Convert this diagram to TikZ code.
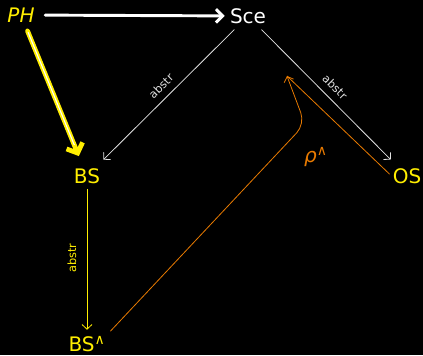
\documentclass[tikz,border=0pt]{standalone}
\usepackage{fontspec}
\setmainfont{DejaVu Sans}
\usetikzlibrary{arrows.meta}

\definecolor{ylw}{RGB}{255,238,0}
\definecolor{org}{RGB}{232,122,0}
\definecolor{lgray}{RGB}{225,225,225}

\begin{document}
\begin{tikzpicture}[x=0.75pt,y=0.75pt,yscale=-1,xscale=1,
    big/.style={font=\fontsize{15}{18}\selectfont, inner sep=0.75pt},
    abs/.style={font=\fontsize{8.5}{9}\selectfont, inner sep=0.75pt},
    barb/.style={-{Straight Barb[length=3.5pt,width=7.5pt]}, line width=0.6pt}]
        %set diagram left start at 0, and has height of 355
        \fill [black] (0,0) rectangle (423,355);

        % Text Node
        \draw (21,15) node [big, color=ylw] (ph) {\textit{PH}};
        % Text Node
        \draw (248,16) node [big, color=white] (sce) {Sce};
        % Text Node
        \draw (87,176) node [big, color=ylw] (bs) {BS};
        % Text Node
        \draw (407,176) node [big, color=ylw] (os) {OS};
        % Text Node
        \draw (87,344) node [big, color=ylw] (bsh) {BS\textsuperscript{∧}};
        % Text Node
        \draw (316,157) node [big, color=org] (rho) {\textit{ρ}\textsuperscript{∧}};
        % Text Node
        \draw (161,86) node [abs, color=lgray, rotate=45] (abs1) {abstr};
        % Text Node
        \draw (335,87) node [abs, color=lgray, rotate=-45] (abs2) {abstr};
        % Text Node
        \draw (72,258) node [abs, color=ylw, rotate=90] (abs3) {abstr};

        \coordinate (rtip) at (287,76);
        \coordinate (rbend) at (305,124);

        %Straight Lines
        \draw [white, line width=2.2pt, line cap=round, -{Straight Barb[length=5pt,width=10pt]}, shorten <=7pt, shorten >=3pt] (ph) -- (sce);
        %Straight Lines
        \draw [ylw, line width=3.6pt, line cap=round, -{Straight Barb[length=6pt,width=13pt]}, shorten <=6pt, shorten >=9pt] (ph) -- (bs);
        \draw [white, line width=0.8pt, shorten <=7pt, shorten >=18pt] (ph) -- (bs);
        %Straight Lines
        \draw [lgray, barb, shorten <=5pt, shorten >=8pt] (sce) -- (bs);
        %Straight Lines
        \draw [lgray, barb, shorten <=5pt, shorten >=8pt] (sce) -- (os);
        %Straight Lines
        \draw [ylw, barb, shorten <=3pt, shorten >=4pt] (bs) -- (bsh);
        %Curve Lines
        \draw [org, barb, rounded corners=9pt, shorten <=4pt] (bsh.north east) -- (rbend) -- (rtip);
        \draw [org, line width=0.6pt, shorten <=2pt] (os.west) -- (rtip);

\end{tikzpicture}
\end{document}
